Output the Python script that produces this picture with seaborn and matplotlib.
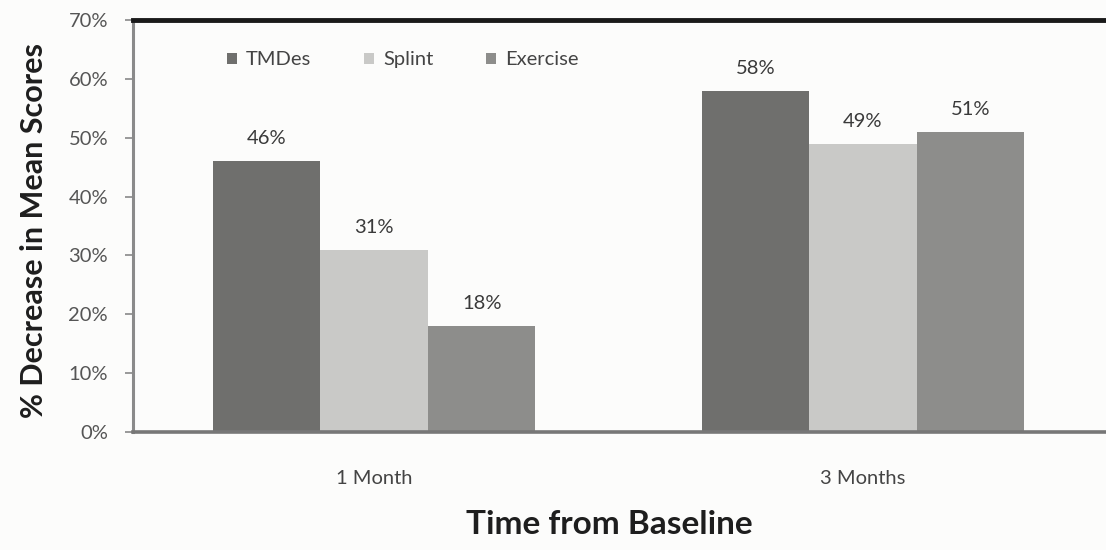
import matplotlib
matplotlib.use("Agg")
import matplotlib.pyplot as plt
from matplotlib.patches import Patch
from matplotlib.ticker import FuncFormatter, MultipleLocator
import pandas as pd
import seaborn as sns

# Data
periods = ["1 Month", "3 Months"]
groups = ["TMDes", "Splint", "Exercise"]
tmdes = [46, 58]
splint = [31, 49]
exercise = [18, 51]

colors = {"TMDes": "#6f6f6d", "Splint": "#c9c9c7", "Exercise": "#8d8d8b"}

rows = []
for g, vals in zip(groups, [tmdes, splint, exercise]):
    for p, v in zip(periods, vals):
        rows.append({"period": p, "group": g, "value": v})
df = pd.DataFrame(rows)

sns.set_theme(style="white")
plt.rcParams["font.family"] = ["Lato", "DejaVu Sans"]

fig = plt.figure(figsize=(11.06, 5.5), dpi=100)
fig.patch.set_facecolor("#fcfcfb")
ax = fig.add_axes([0.1203, 0.2145, 0.8797, 0.7491])
ax.set_facecolor("#fcfcfb")

sns.barplot(data=df, x="period", y="value", hue="group", order=periods,
            hue_order=groups, palette=colors, width=0.66, gap=0,
            saturation=1, edgecolor="none", ax=ax, legend=False)

for cont in ax.containers:
    ax.bar_label(cont, labels=[f"{v:.0f}%" for v in cont.datavalues],
                 padding=10, fontsize=14.5, color="#3a3a3a")

ax.set_xlim(-0.493, 1.497)
ax.set_ylim(0, 70)
ax.yaxis.set_major_locator(MultipleLocator(10))
ax.yaxis.set_major_formatter(FuncFormatter(lambda v, _: f"{v:.0f}%"))
ax.tick_params(axis="y", direction="out", length=6, width=1.2, color="#888888",
               labelsize=14.5, labelcolor="#555555", pad=12, left=True)
ax.tick_params(axis="x", length=0, pad=27, labelsize=14.5, labelcolor="#444444")

for side in ["left", "bottom", "top"]:
    ax.spines[side].set_visible(True)
ax.spines["top"].set_color("#1a1a1a")
ax.spines["top"].set_linewidth(3.5)
ax.spines["left"].set_color("#8a8a8a")
ax.spines["left"].set_linewidth(2.2)
ax.spines["bottom"].set_color("#777777")
ax.spines["bottom"].set_linewidth(2.6)
ax.spines["right"].set_visible(False)

ax.set_xlabel("Time from Baseline", fontsize=24, fontweight="bold",
              color="#1e1e1e")
ax.set_ylabel("% Decrease in Mean Scores", fontsize=22, fontweight="bold",
              color="#1e1e1e")
ax.xaxis.set_label_coords(0.49, -0.19)
ax.yaxis.set_label_coords(-0.087, 0.49)

handles = [Patch(facecolor=colors[g], edgecolor="none", label=g) for g in groups]
ax.legend(handles=handles, ncol=3, loc="center left",
          bbox_to_anchor=(0.078, 0.903), frameon=False, fontsize=14.5,
          handlelength=0.5, handleheight=0.5, handletextpad=0.45,
          columnspacing=2.6, labelcolor="#444444")

fig.savefig("out.png", dpi=100, facecolor=fig.get_facecolor())
